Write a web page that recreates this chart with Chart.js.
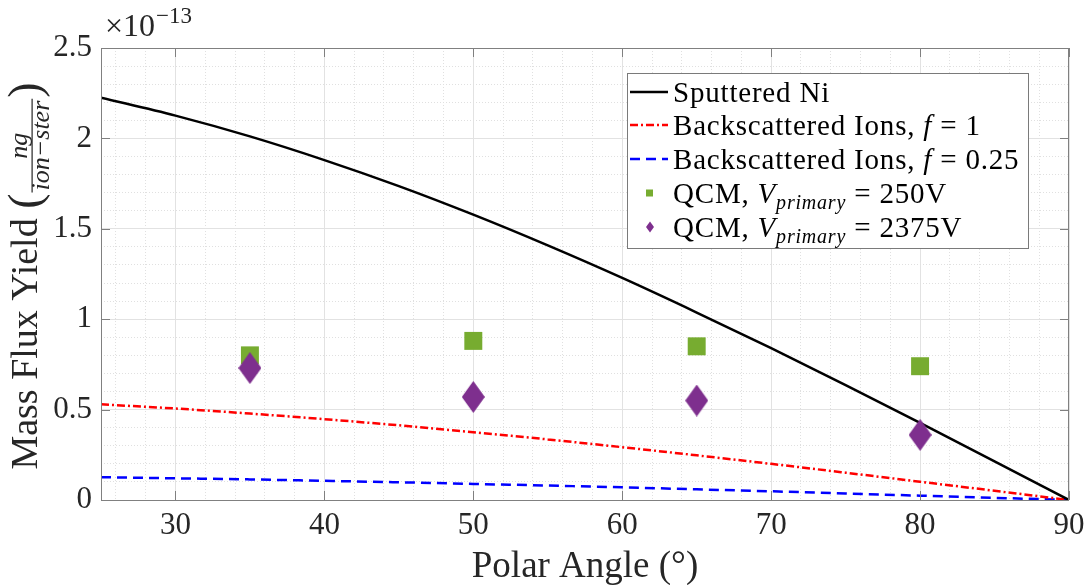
<!DOCTYPE html>
<html><head><meta charset="utf-8">
<script src="https://cdn.jsdelivr.net/npm/chart.js@4.4.1/dist/chart.umd.min.js"></script>
<style>html,body{margin:0;padding:0;background:#fff;}canvas{display:block;}</style>
</head><body>
<canvas id="c" width="1088" height="585"></canvas>
<script>
// ---- data (values in units of 1e-13 ng/(ion-ster)) ----
const angles = [25,30,35,40,45,50,55,60,65,70,75,80,85,90];
const sputteredNi     = [2.225,2.126,2.011,1.880,1.736,1.578,1.408,1.228,1.037,0.840,0.635,0.426,0.214,0];
const backscatterF1   = [0.529,0.506,0.478,0.447,0.413,0.375,0.335,0.292,0.247,0.200,0.151,0.101,0.051,0];
const backscatterF025 = [0.126,0.120,0.114,0.106,0.098,0.089,0.080,0.070,0.059,0.048,0.036,0.024,0.012,0];
const qcmAngles = [35,50,65,80];
const qcm250  = [0.80,0.88,0.85,0.74];
const qcm2375 = [0.73,0.57,0.55,0.36];
const xTicks = [30,40,50,60,70,80,90];
const yTicks = [0,0.5,1,1.5,2,2.5];
const exponentLabel = '\u221213';

const xMinor = []; for (let v = 26; v < 90; v += 2) if (v % 10 !== 0) xMinor.push(v);
const yMinor = []; for (let k = 1; k < 25; k++) if (k % 5 !== 0) yMinor.push(k / 10);

const FONT = '"Liberation Serif", "Times New Roman", serif';
const TXT = '#262626';
const AXC = '#808080';
const GREEN = '#77AC30', PURPLE = '#7E2F8E';

function diamondCanvas(w, h, color) {
  const c = document.createElement('canvas'); c.width = w; c.height = h;
  const g = c.getContext('2d'); g.fillStyle = color; g.beginPath();
  g.moveTo(w/2, 0); g.lineTo(w, h/2); g.lineTo(w/2, h); g.lineTo(0, h/2); g.closePath(); g.fill();
  return c;
}
const diamond = diamondCanvas(23, 32, PURPLE);

const pts = (xs, ys) => xs.map((x, i) => ({x, y: ys[i]}));

const legendItems = [
  {type:'line', color:'#000', dash:[], segs:[['n','Sputtered Ni']]},
  {type:'line', color:'#ff0000', dash:[8,3,2,3], segs:[['n','Backscattered Ions, '],['i','f'],['n',' = 1']]},
  {type:'line', color:'#0000ff', dash:[10,6], segs:[['n','Backscattered Ions, '],['i','f'],['n',' = 0.25']]},
  {type:'square', color:GREEN, segs:[['n','QCM, '],['i','V'],['s','primary'],['n',' = 250V']]},
  {type:'diamond', color:PURPLE, segs:[['n','QCM, '],['i','V'],['s','primary'],['n',' = 2375V']]}
];

function drawRich(ctx, x, y, segs, F) {
  for (const [s, t] of segs) {
    let f, dy = 0;
    if (s === 'n') f = `${F}px ${FONT}`;
    else if (s === 'i') f = `italic ${F}px ${FONT}`;
    else { f = `italic ${Math.round(F*0.7)}px ${FONT}`; dy = F*0.22; }
    ctx.font = f; ctx.fillText(t, x, y + dy);
    x += ctx.measureText(t).width;
  }
  return x;
}

const decor = {
  id: 'decor',
  afterDraw(chart) {
    const ctx = chart.ctx, a = chart.chartArea;
    const xs = chart.scales.x, ys = chart.scales.y;
    ctx.save();
    // box
    ctx.strokeStyle = AXC; ctx.lineWidth = 1; ctx.setLineDash([]);
    ctx.strokeRect(Math.round(a.left)+0.5, Math.round(a.top)+0.5, Math.round(a.right-a.left)-1, Math.round(a.bottom-a.top));
    // inward ticks
    const TL = 9;
    ctx.beginPath();
    xTicks.forEach(v => { const p = Math.round(xs.getPixelForValue(v)) + 0.5;
      ctx.moveTo(p, a.bottom); ctx.lineTo(p, a.bottom - TL); ctx.moveTo(p, a.top); ctx.lineTo(p, a.top + TL); });
    yTicks.forEach(v => { const p = Math.round(ys.getPixelForValue(v)) + 0.5;
      ctx.moveTo(a.left, p); ctx.lineTo(a.left + TL, p); ctx.moveTo(a.right, p); ctx.lineTo(a.right - TL, p); });
    ctx.stroke();

    // legend
    const L = 627, T = 73, R = 1028, B = 248;
    ctx.fillStyle = '#fff'; ctx.fillRect(L, T, R-L, B-T);
    ctx.strokeStyle = '#7a7a7a'; ctx.strokeRect(L+0.5, T+0.5, R-L, B-T);
    const rows = [92, 125, 159, 193, 227];
    legendItems.forEach((it, i) => {
      const cy = rows[i];
      if (it.type === 'line') {
        ctx.strokeStyle = it.color; ctx.lineWidth = 2.5; ctx.setLineDash(it.dash);
        ctx.beginPath(); ctx.moveTo(630, cy); ctx.lineTo(668, cy); ctx.stroke(); ctx.setLineDash([]);
      } else if (it.type === 'square') {
        ctx.fillStyle = it.color; ctx.fillRect(646, cy-3.5, 7, 7);
      } else {
        ctx.fillStyle = it.color; ctx.beginPath();
        ctx.moveTo(650, cy-5.5); ctx.lineTo(654, cy); ctx.lineTo(650, cy+5.5); ctx.lineTo(646, cy); ctx.closePath(); ctx.fill();
      }
      ctx.fillStyle = '#000'; ctx.textBaseline = 'alphabetic'; ctx.textAlign = 'left';
      ctx.letterSpacing = '0.8px';
      drawRich(ctx, 673, cy + 10, it.segs, 29);
      ctx.letterSpacing = '0px';
    });

    // exponent
    ctx.fillStyle = TXT; ctx.textAlign = 'left'; ctx.textBaseline = 'alphabetic';
    ctx.font = `32px ${FONT}`; ctx.fillText('\u00d710', 105, 36);
    const w10 = ctx.measureText('\u00d710').width;
    ctx.font = `23px ${FONT}`; ctx.fillText(exponentLabel, 105 + w10 + 1, 23);

    // x title
    ctx.font = `37px ${FONT}`; ctx.textAlign = 'center';
    ctx.fillText('Polar Angle (\u00b0)', (a.left + a.right) / 2, 577);

    // y title (rotated) with fraction
    ctx.save();
    ctx.translate(37, 276); ctx.rotate(-Math.PI/2);
    ctx.textAlign = 'left';
    const mainT = 'Mass Flux Yield ';
    ctx.font = `38px ${FONT}`; const w1 = ctx.measureText(mainT).width;
    const PF = `46px ${FONT}`; ctx.font = PF; const wp = ctx.measureText('(').width;
    const FF = `italic 26px ${FONT}`; ctx.font = FF;
    const wn = ctx.measureText('ng').width, wd = ctx.measureText('ion\u2212ster').width;
    const wf = Math.max(wn, wd) + 6;
    const W = w1 + wp + wf + wp;
    let x = -W/2;
    ctx.font = `38px ${FONT}`; ctx.fillText(mainT, x, 0); x += w1;
    ctx.font = PF; ctx.fillText('(', x, 3); x += wp;
    ctx.font = FF; ctx.fillText('ng', x + (wf - wn)/2, -10);
    ctx.fillText('ion\u2212ster', x + (wf - wd)/2, 12);
    ctx.fillRect(x + 1, -5.5, wf - 2, 1.2);
    x += wf;
    ctx.font = PF; ctx.fillText(')', x, 3);
    ctx.restore();
    ctx.restore();
  }
};

const tickFont = {family: FONT, size: 31};
const noSidePad = s => { s.paddingLeft = 0; s.paddingRight = 0; };

new Chart(document.getElementById('c'), {
  type: 'line',
  data: {
    datasets: [
      {label:'QCM, V_primary = 2375V', data: pts(qcmAngles, qcm2375), showLine:false, pointStyle: diamond, pointRadius: 12, backgroundColor: PURPLE, borderWidth:0, order:0},
      {label:'QCM, V_primary = 250V', data: pts(qcmAngles, qcm250), showLine:false, pointStyle:'rect', pointRadius: 12.7, backgroundColor: GREEN, borderColor: GREEN, borderWidth:0, order:1},
      {label:'Sputtered Ni', data: pts(angles, sputteredNi), borderColor:'#000', borderWidth:2.5, pointRadius:0, cubicInterpolationMode:'monotone', order:2},
      {label:'Backscattered Ions, f = 1', data: pts(angles, backscatterF1), borderColor:'#ff0000', borderWidth:2.5, borderDash:[8,3,2,3], pointRadius:0, cubicInterpolationMode:'monotone', order:3},
      {label:'Backscattered Ions, f = 0.25', data: pts(angles, backscatterF025), borderColor:'#0000ff', borderWidth:2.5, borderDash:[10,6], pointRadius:0, cubicInterpolationMode:'monotone', order:4}
    ]
  },
  options: {
    responsive: false, animation: false, devicePixelRatio: 1,
    layout: {padding: {left: 0, right: 19, top: 48, bottom: 0}},
    plugins: {legend: {display:false}, tooltip: {enabled:false}},
    elements: {line: {fill:false}},
    scales: {
      x: {type:'linear', position:'bottom', min:25, max:90,
          afterBuildTicks: s => { s.ticks = xTicks.map(v => ({value:v})); },
          afterFit: s => { s.height = 85; noSidePad(s); },
          ticks: {font: tickFont, color: TXT, padding: 7, maxRotation:0, callback: v => String(v)},
          grid: {color:'#e2e2e2', lineWidth:1, drawTicks:false},
          border: {display:false}},
      xMinor: {type:'linear', position:'bottom', min:25, max:90,
          afterBuildTicks: s => { s.ticks = xMinor.map(v => ({value:v})); },
          afterFit: s => { s.height = 0; noSidePad(s); },
          ticks: {display:false}, grid: {color:'#e0e0e0', lineWidth:1, drawTicks:false},
          border: {display:false, dash:[1,2]}},
      y: {type:'linear', position:'left', min:0, max:2.5,
          afterBuildTicks: s => { s.ticks = yTicks.map(v => ({value:v})); },
          afterFit: s => { s.width = 101; },
          ticks: {font: tickFont, color: TXT, padding: 9, callback: v => String(v)},
          grid: {color:'#e2e2e2', lineWidth:1, drawTicks:false},
          border: {display:false}},
      yMinor: {type:'linear', position:'left', min:0, max:2.5,
          afterBuildTicks: s => { s.ticks = yMinor.map(v => ({value:v})); },
          afterFit: s => { s.width = 0; },
          ticks: {display:false}, grid: {color:'#e0e0e0', lineWidth:1, drawTicks:false},
          border: {display:false, dash:[1,2]}}
    }
  },
  plugins: [decor]
});
</script>
</body></html>
